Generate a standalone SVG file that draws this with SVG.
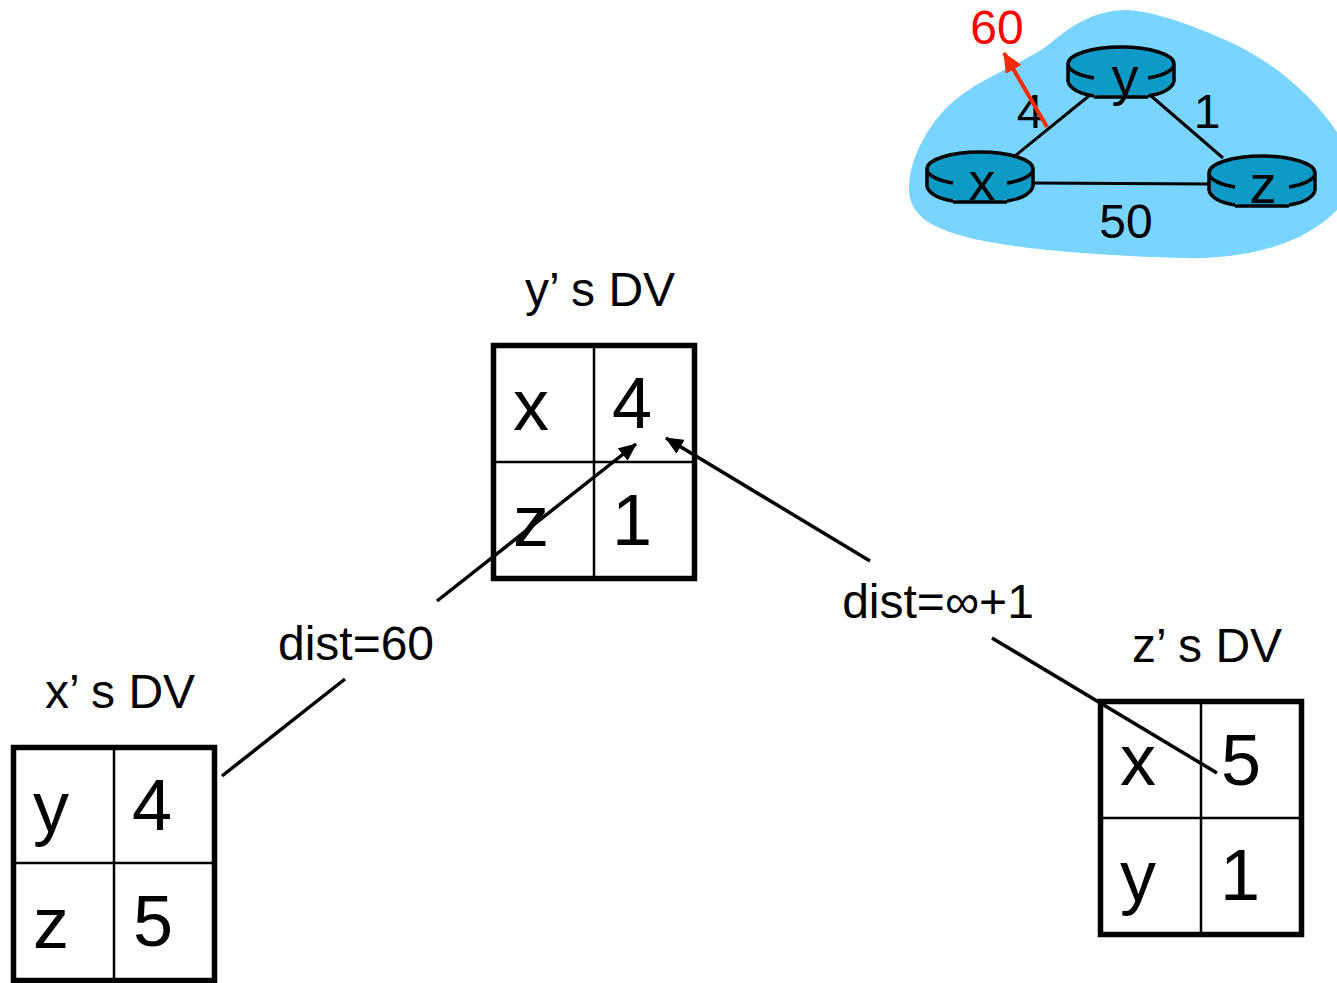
<svg xmlns="http://www.w3.org/2000/svg" width="1337" height="983" viewBox="0 0 1337 983">
<style>
text{font-family:"Liberation Sans",Arial,sans-serif;fill:#000;text-anchor:middle}
.big{font-size:72px}.mid{font-size:48px}.rt{font-size:54px}
.o{fill:none;stroke:#000;stroke-width:5.500}
.i{fill:none;stroke:#000;stroke-width:2.500}
.c{fill:none;stroke:#000;stroke-width:3.500}
.r{fill:#0e9ac6;stroke:none}
.ro{fill:none;stroke:#000;stroke-width:3.500}
.l{stroke:#000;stroke-width:3;fill:none}
</style>
<defs>
<marker id="ah" markerUnits="userSpaceOnUse" markerWidth="20" markerHeight="16" refX="17" refY="8" orient="auto"><path d="M0 0L18 8L0 16Z" fill="#000"/></marker>
<marker id="ahr" markerUnits="userSpaceOnUse" markerWidth="22" markerHeight="18" refX="19" refY="9" orient="auto"><path d="M0 0L20 9L0 18Z" fill="#ff2a00"/></marker>
<g id="router-shape">
<path class="r" d="M-53 -9A53 17 0 0 1 53 -9V9C50 17 25 24 0 24C-25 24 -50 17 -53 9Z"/>
<path class="ro" d="M-53 -9A53 17 0 0 1 53 -9M-53 -9C-53 -2 -40 3 -27 5M27 5C40 3 53 -2 53 -9M-53 -9V9M53 -9V9M-53 9C-50 16 -40 21 -27 23M27 23C40 21 50 16 53 9M-27 24H27"/>
</g>
</defs>
<rect width="1337" height="983" fill="#fff"/>
<g id="cloud"><path d="M1125 10C1100 10 1075 22 1052 42C1030 60 990 74 960 96C930 118 908 160 909 190C910 215 930 228 970 238C1020 250 1110 256 1180 258C1250 260 1305 243 1337 210V132C1315 100 1280 65 1230 42C1190 24 1150 10 1125 10Z" fill="#79d5ff"/></g>
<g id="links">
<path class="l" d="M1015 156L1090 95M1150 95L1223 158M1033 183L1210 184"/>
</g>
<g id="node-y"><use href="#router-shape" x="1121" y="73"/><text class="rt" x="1125" y="95">y</text></g>
<g id="node-x"><use href="#router-shape" x="980" y="178"/><text class="rt" x="982" y="200">x</text></g>
<g id="node-z"><use href="#router-shape" x="1262" y="182"/><text class="rt" x="1263" y="203">z</text></g>
<g id="link-labels">
<text class="mid" x="1030" y="128">4</text>
<text class="mid" x="1207" y="128">1</text>
<text class="mid" x="1126" y="238">50</text>
<text class="mid" x="997" y="44" style="fill:#f00">60</text>
</g>
<g id="table-y">
<text class="mid" x="600" y="306">y’ s DV</text>
<path class="i" d="M594 345V578M493 462H694"/>
<rect class="o" x="493.500" y="345.500" width="201" height="233"/>
<text class="big" x="531" y="430">x</text><text class="big" x="632" y="428">4</text>
<text class="big" x="531" y="546">z</text><text class="big" x="632" y="545">1</text>
</g>
<g id="table-x">
<text class="mid" x="120" y="708">x’ s DV</text>
<path class="i" d="M114 747V980M13 863H215"/>
<rect class="o" x="13.500" y="747.500" width="201" height="233"/>
<text class="big" x="51" y="832">y</text><text class="big" x="152" y="830">4</text>
<text class="big" x="51" y="948">z</text><text class="big" x="153" y="946">5</text>
</g>
<g id="table-z">
<text class="mid" x="1207" y="662">z’ s DV</text>
<path class="i" d="M1201 701V934M1100 818H1301"/>
<rect class="o" x="1100.500" y="701.500" width="201" height="233"/>
<text class="big" x="1138" y="785">x</text><text class="big" x="1241" y="785">5</text>
<text class="big" x="1138" y="901">y</text><text class="big" x="1240" y="900">1</text>
</g>
<g id="connectors">
<path class="c" d="M222 776L345 679"/>
<path class="c" marker-end="url(#ah)" d="M437 601L636 444"/>
<path class="c" d="M992 638L1217 773"/>
<path class="c" marker-end="url(#ah)" d="M870 561L666 438"/>
<path d="M1047 127L1004 53" fill="none" stroke="#ff2a00" stroke-width="4" marker-end="url(#ahr)"/>
</g>
<g id="connector-labels">
<text class="mid" x="356" y="660">dist=60</text>
<text class="mid" x="938" y="618">dist=∞+1</text>
</g>
</svg>
